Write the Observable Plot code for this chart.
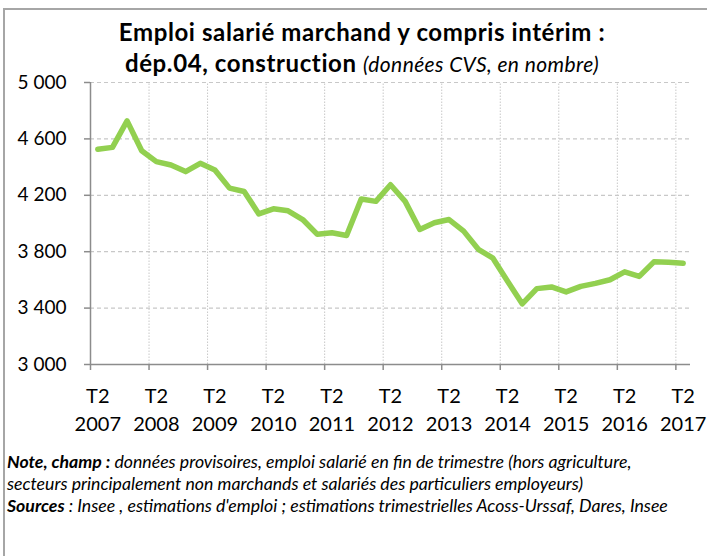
<!DOCTYPE html>
<html><head><meta charset="utf-8">
<script src="https://cdn.jsdelivr.net/npm/d3@7"></script>
<script src="https://cdn.jsdelivr.net/npm/@observablehq/plot@0.6"></script>
<style>
html,body{margin:0;padding:0;background:#fff;overflow:hidden;width:707px;height:556px}
#frame{position:absolute;left:3px;top:8px;width:800px;height:700px;border-top:2px solid #a6a6a6;border-left:2px solid #a6a6a6;box-sizing:border-box}
#title{position:absolute;left:0;width:724px;top:16px;text-align:center;font-family:Lato;font-weight:bold;font-size:24px;letter-spacing:0.6px;line-height:31px;color:#000;white-space:nowrap}
#title .sub{font-weight:normal;font-style:italic;font-size:21px;letter-spacing:0.4px}
#chart{position:absolute;left:0;top:0}
#notes{position:absolute;left:7px;top:451px;font-family:Lato;font-style:italic;font-size:17.7px;line-height:22px;color:#000;white-space:nowrap}
</style></head>
<body>
<div id="frame"></div>
<div id="title">Emploi salarié marchand y compris intérim :<br>dép.04, construction <span class="sub">(données CVS, en nombre)</span></div>
<div id="chart"></div>
<div id="notes"><b>Note, champ :</b> données provisoires, emploi salarié en fin de trimestre (hors agriculture,<br>secteurs principalement non marchands et salariés des particuliers employeurs)<br><b>Sources</b> : Insee , estimations d'emploi ; estimations trimestrielles Acoss-Urssaf, Dares, Insee</div>
<script>
// Quarterly categories T2 2007 .. T2 2017
const quarters = ["T2 2007","T3 2007","T4 2007","T1 2008","T2 2008","T3 2008","T4 2008","T1 2009","T2 2009","T3 2009","T4 2009","T1 2010","T2 2010","T3 2010","T4 2010","T1 2011","T2 2011","T3 2011","T4 2011","T1 2012","T2 2012","T3 2012","T4 2012","T1 2013","T2 2013","T3 2013","T4 2013","T1 2014","T2 2014","T3 2014","T4 2014","T1 2015","T2 2015","T3 2015","T4 2015","T1 2016","T2 2016","T3 2016","T4 2016","T1 2017","T2 2017"];
const emploi = [4526,4540,4728,4516,4439,4415,4368,4427,4380,4251,4227,4068,4104,4090,4028,3923,3934,3915,4174,4157,4275,4157,3958,4005,4028,3946,3817,3754,3590,3430,3538,3550,3515,3554,3575,3601,3657,3625,3728,3726,3718];
const yTicks = [3000,3400,3800,4200,4600,5000];
const xLabelQuarters = ["T2 2007","T2 2008","T2 2009","T2 2010","T2 2011","T2 2012","T2 2013","T2 2014","T2 2015","T2 2016","T2 2017"];

const data = quarters.map((q,i)=>({q, i, v: emploi[i]}));
const labelData = xLabelQuarters.map(q=>({i: quarters.indexOf(q), t: q.split(" ")[0], yr: q.split(" ")[1]}));
const boundaries = labelData.map(d=>d.i - 0.5);
const fmt = d3.formatLocale({decimal:",", thousands:"\u00a0", grouping:[3], currency:["",""]}).format(",");

const H = 440;
const chart = Plot.plot({
  width: 707, height: H,
  marginLeft: 90, marginRight: 17, marginTop: 82, marginBottom: H - 364,
  style: {fontFamily: "Lato", color: "#000", background: "transparent", overflow: "visible"},
  x: {type: "linear", domain: [-0.5, quarters.length - 0.5], axis: null},
  y: {domain: [3000, 5000], axis: null},
  marks: [
    Plot.ruleY(yTicks.filter(v => v > 3000), {stroke: "#c8c8c8", strokeWidth: 1.2, strokeDasharray: "4,3"}),
    Plot.ruleX(boundaries.slice(1), {y1: 3000, y2: 5000, stroke: "#c8c8c8", strokeWidth: 1, strokeDasharray: "1.5,1.5"}),
    Plot.ruleY([3000], {stroke: "#8c8c8c", strokeWidth: 1.5}),
    Plot.ruleX([-0.5], {y1: 3000, y2: 5000, stroke: "#8c8c8c", strokeWidth: 1.5}),
    Plot.axisY({ticks: yTicks, tickSize: 6, tickPadding: 18, tickFormat: fmt, label: null, stroke: "#8c8c8c", strokeWidth: 1.5, fill: "#000", fontSize: 19}),
    Plot.axisX({ticks: boundaries, tickSize: 6, tickFormat: () => "", label: null, stroke: "#8c8c8c", strokeWidth: 1.5}),
    Plot.line(data, {x: "i", y: "v", stroke: "#92d050", strokeWidth: 5.5, strokeLinejoin: "round", strokeLinecap: "round"}),
    Plot.text(labelData, {x: "i", y: () => 3000, text: "t", dy: 32, fontSize: 20, fill: "#000"}),
    Plot.text(labelData, {x: "i", y: () => 3000, text: "yr", dy: 60, fontSize: 20, fill: "#000"})
  ]
});
document.getElementById("chart").appendChild(chart);
</script>
</body></html>
